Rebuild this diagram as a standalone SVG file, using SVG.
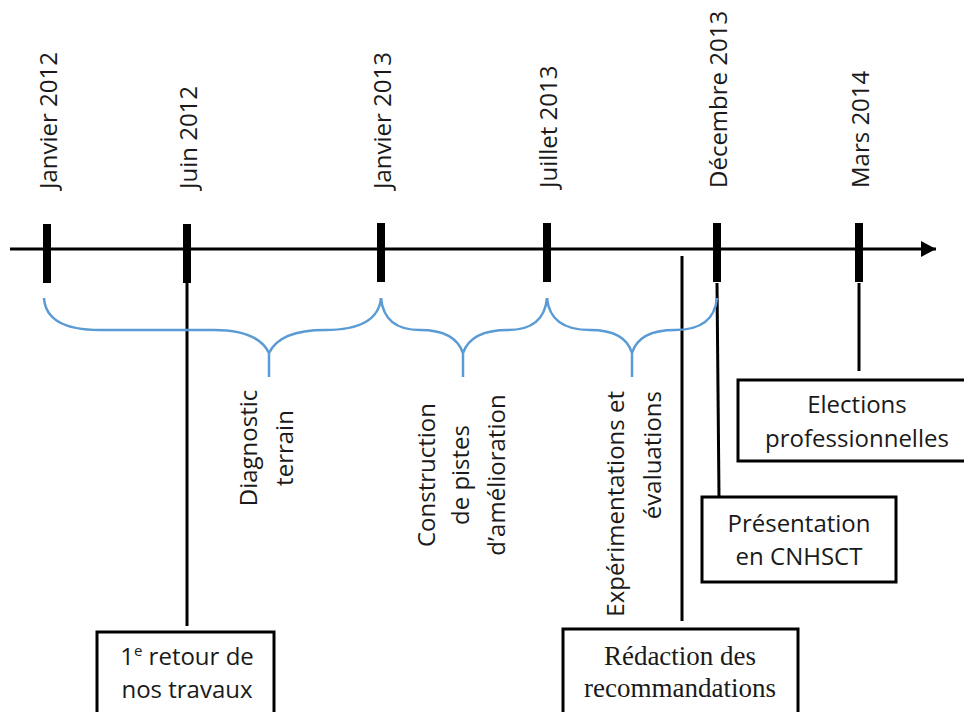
<svg xmlns="http://www.w3.org/2000/svg" width="964" height="712" viewBox="0 0 964 712">
<defs>
<style>
.sans{font-family:"Open Sans","Liberation Sans",sans-serif;font-size:24px;fill:#1a1a1a}
.serif{font-family:"Liberation Serif","Times New Roman",serif;font-size:27px;fill:#1a1a1a}
.tick{fill:#000}
.conn{stroke:#000;stroke-width:3;fill:none}
.brace{stroke:#5b9bd5;stroke-width:2.5;fill:none}
.box{fill:#fff;stroke:#000;stroke-width:3}
</style>
<marker id="arr" markerWidth="16" markerHeight="16" refX="15" refY="8" orient="auto" markerUnits="userSpaceOnUse">
<path d="M0,0 L15,8 L0,16 Z" fill="#000"/>
</marker>
</defs>
<rect width="964" height="712" fill="#fff"/>

<g id="connectors">
<line class="conn" x1="10" y1="249" x2="936" y2="249" marker-end="url(#arr)"/>
<line class="conn" x1="187" y1="283" x2="187" y2="626"/>
<line class="conn" x1="682" y1="256" x2="682" y2="621"/>
<line class="conn" x1="717" y1="283" x2="719" y2="497"/>
<line class="conn" x1="859" y1="283" x2="859" y2="371"/>
</g>

<g id="ticks">
<rect class="tick" x="43" y="224" width="8" height="59"/>
<rect class="tick" x="183" y="224" width="8" height="59"/>
<rect class="tick" x="377" y="223" width="8" height="59"/>
<rect class="tick" x="543" y="223" width="8" height="59"/>
<rect class="tick" x="713" y="223" width="8" height="59"/>
<rect class="tick" x="855" y="223" width="8" height="59"/>
</g>

<g id="dates">
<text class="sans" transform="translate(57,189) rotate(-90)">Janvier 2012</text>
<text class="sans" transform="translate(197,189) rotate(-90)">Juin 2012</text>
<text class="sans" transform="translate(391,189) rotate(-90)">Janvier 2013</text>
<text class="sans" transform="translate(557,188) rotate(-90)">Juillet 2013</text>
<text class="sans" transform="translate(727,188) rotate(-90)">Décembre 2013</text>
<text class="sans" transform="translate(869,188) rotate(-90)">Mars 2014</text>
</g>

<g id="braces">
<path class="brace" d="M44,298 Q46,330 100,330 H214 Q258,330 269,353 Q280,330 325,330 Q378,330 381,298 M269,353 V377"/>
<path class="brace" d="M381,298 Q384,330 420,330 Q455,330 463,353 Q471,330 508,330 Q544,330 547,298 M463,353 V377"/>
<path class="brace" d="M547,298 Q550,330 590,330 Q625,330 632,353 Q639,330 675,330 Q714,330 717,298 M632,353 V377"/>
</g>

<g id="phase-diagnostic">
<text class="sans" text-anchor="middle" transform="translate(257,448) rotate(-90)">Diagnostic</text>
<text class="sans" text-anchor="middle" transform="translate(293,448) rotate(-90)">terrain</text>
</g>
<g id="phase-construction">
<text class="sans" text-anchor="middle" transform="translate(435,475) rotate(-90)">Construction</text>
<text class="sans" text-anchor="middle" transform="translate(469,475) rotate(-90)">de pistes</text>
<text class="sans" text-anchor="middle" transform="translate(505,475) rotate(-90)">d’amélioration</text>
</g>
<g id="phase-experimentations">
<text class="sans" text-anchor="end" transform="translate(624,391) rotate(-90)">Expérimentations et</text>
<text class="sans" text-anchor="end" transform="translate(661,391) rotate(-90)">évaluations</text>
</g>

<g id="node-retour">
<rect class="box" x="97" y="632" width="177" height="90"/>
<text class="sans" text-anchor="middle" x="187" y="665">1<tspan font-size="15" dy="-9">e</tspan><tspan dy="9"> retour de</tspan></text>
<text class="sans" text-anchor="middle" x="187" y="698">nos travaux</text>
</g>

<g id="node-redaction">
<rect class="box" x="563" y="629" width="235" height="93"/>
<text class="serif" text-anchor="middle" x="680" y="665">Rédaction des</text>
<text class="serif" text-anchor="middle" x="680" y="697">recommandations</text>
</g>

<g id="node-presentation">
<rect class="box" x="702" y="497" width="194" height="85"/>
<text class="sans" text-anchor="middle" x="799" y="532">Présentation</text>
<text class="sans" text-anchor="middle" x="799" y="565">en CNHSCT</text>
</g>

<g id="node-elections">
<rect class="box" x="738" y="380" width="236" height="81"/>
<text class="sans" text-anchor="middle" x="857" y="413">Elections</text>
<text class="sans" text-anchor="middle" x="857" y="447">professionnelles</text>
</g>
</svg>
